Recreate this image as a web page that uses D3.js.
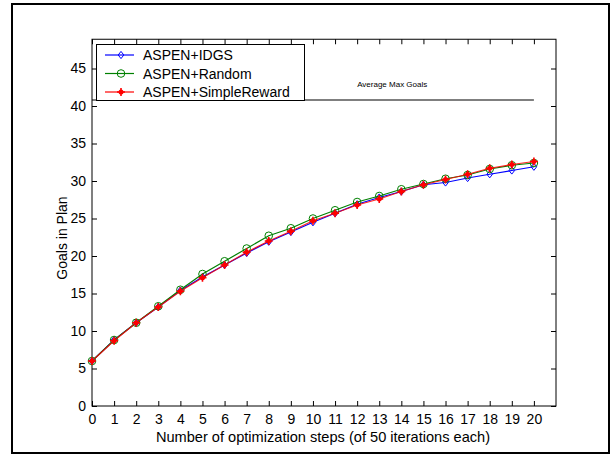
<!DOCTYPE html>
<html><head><meta charset="utf-8">
<script src="https://cdn.jsdelivr.net/npm/d3@7"></script>
<style>body{margin:0;background:#fff;} svg{display:block;font-family:"Liberation Sans",Arial,Helvetica,sans-serif;}</style>
</head><body><div id="chart"></div>
<script>
const steps = [0,1,2,3,4,5,6,7,8,9,10,11,12,13,14,15,16,17,18,19,20];
const idgs = [6.0,8.8,11.1,13.2,15.4,17.2,18.8,20.4,21.9,23.2,24.5,25.7,26.9,27.8,28.6,29.5,29.8,30.4,30.9,31.4,31.9];
const random = [6.0,8.8,11.1,13.3,15.5,17.6,19.3,21.0,22.7,23.7,25.0,26.1,27.2,28.0,28.9,29.6,30.3,30.8,31.6,32.1,32.4];
const simple = [6.0,8.7,11.1,13.2,15.3,17.1,18.8,20.5,22.0,23.3,24.7,25.7,26.8,27.6,28.6,29.5,30.2,30.9,31.7,32.2,32.6];
const seriesNames = ["ASPEN+IDGS","ASPEN+Random","ASPEN+SimpleReward"];
const seriesColors = ["#0000ff","#008000","#ff0000"];
const xTicks = [0,1,2,3,4,5,6,7,8,9,10,11,12,13,14,15,16,17,18,19,20];
const yTicks = [0,5,10,15,20,25,30,35,40,45];
const avgMax = 40.8;
const avgLabel = "Average Max Goals";
const xLabel = "Number of optimization steps (of 50 iterations each)";
const yLabel = "Goals in Plan";

const W = 613, H = 456;
const svg = d3.select("#chart").append("svg").attr("width", W).attr("height", H);
svg.append("rect").attr("x",12).attr("y",4).attr("width",597).attr("height",449)
  .attr("fill","#fff").attr("stroke","#000").attr("stroke-width",2);

const x = d3.scaleLinear().domain([0,21]).range([92, 556]);
const y = d3.scaleLinear().domain([0,48.9]).range([406, 39.25]);

const g = svg.append("g");
g.append("rect").attr("x",x(0)).attr("y",y(48.9)).attr("width",x(21)-x(0)).attr("height",y(0)-y(48.9))
  .attr("fill","none").attr("stroke","#000").attr("stroke-width",1);

const ax = (sel, axis) => { sel.call(axis); sel.select(".domain").remove();
  sel.selectAll("text").attr("font-size",14).attr("fill","#000").attr("font-family","'Liberation Sans',Arial,sans-serif");
  sel.selectAll("line").attr("stroke","#000"); };
g.append("g").attr("transform",`translate(0,${y(0)})`)
  .call(s=>ax(s, d3.axisBottom(x).tickValues(xTicks).tickSize(-5).tickPadding(8).tickFormat(d3.format("d"))));
g.append("g").attr("transform",`translate(0,${y(48.9)})`)
  .call(s=>{ax(s, d3.axisTop(x).tickValues(xTicks).tickSize(-5).tickFormat("")); });
g.append("g").attr("transform",`translate(${x(0)},0)`)
  .call(s=>ax(s, d3.axisLeft(y).tickValues(yTicks).tickSize(-5).tickPadding(6).tickFormat(d3.format("d"))));
g.append("g").attr("transform",`translate(${x(21)},0)`)
  .call(s=>{ax(s, d3.axisRight(y).tickValues(yTicks).tickSize(-5).tickFormat("")); });

g.append("line").attr("x1",x(0)).attr("x2",x(20)).attr("y1",y(avgMax)).attr("y2",y(avgMax))
  .attr("stroke","#000").attr("stroke-width",1.2);
g.append("text").attr("x",x(12)).attr("y",y(42.6)).attr("font-size",8).attr("fill","#000").text(avgLabel);

const data = [idgs, random, simple];
const line = d3.line().x((d,i)=>x(steps[i])).y(d=>y(d));
function marker(sel, k, cx, cy) {
  if (k===0) {
    sel.append("path").attr("d",`M${cx},${cy-3.6}L${cx+2.8},${cy}L${cx},${cy+3.6}L${cx-2.8},${cy}Z`)
      .attr("fill","none").attr("stroke",seriesColors[0]).attr("stroke-width",1);
  } else if (k===1) {
    sel.append("circle").attr("cx",cx).attr("cy",cy).attr("r",3.8)
      .attr("fill","none").attr("stroke",seriesColors[1]).attr("stroke-width",1);
  } else {
    sel.append("circle").attr("cx",cx).attr("cy",cy).attr("r",2.5).attr("fill",seriesColors[2]);
    sel.append("path").attr("d",`M${cx-4},${cy}H${cx+4}M${cx},${cy-4}V${cy+4}`)
      .attr("stroke",seriesColors[2]).attr("stroke-width",1.6);
  }
}
data.forEach((vals,k)=>{
  g.append("path").datum(vals).attr("d",line).attr("fill","none")
    .attr("stroke",seriesColors[k]).attr("stroke-width",1.2).attr("opacity", k===2?0.85:1);
  const mg = g.append("g");
  vals.forEach((v,i)=>marker(mg,k,x(steps[i]),y(v)));
});

const lg = svg.append("g");
lg.append("rect").attr("x",96.5).attr("y",44.5).attr("width",208).attr("height",56)
  .attr("fill","#fff").attr("stroke","#000").attr("stroke-width",1);
seriesNames.forEach((n,k)=>{
  const yy = 55 + k*18.5;
  lg.append("line").attr("x1",105).attr("x2",134).attr("y1",yy).attr("y2",yy)
    .attr("stroke",seriesColors[k]).attr("stroke-width",1.2);
  marker(lg,k,121,yy);
  lg.append("text").attr("x",143).attr("y",yy+5).attr("font-size",14).attr("fill","#000").text(n);
});

svg.append("text").attr("x",323).attr("y",442).attr("text-anchor","middle").attr("font-size",14.6).attr("fill","#000").text(xLabel);
svg.append("text").attr("transform","translate(67,238) rotate(-90)").attr("text-anchor","middle").attr("font-size",14).attr("fill","#000").text(yLabel);
</script></body></html>
